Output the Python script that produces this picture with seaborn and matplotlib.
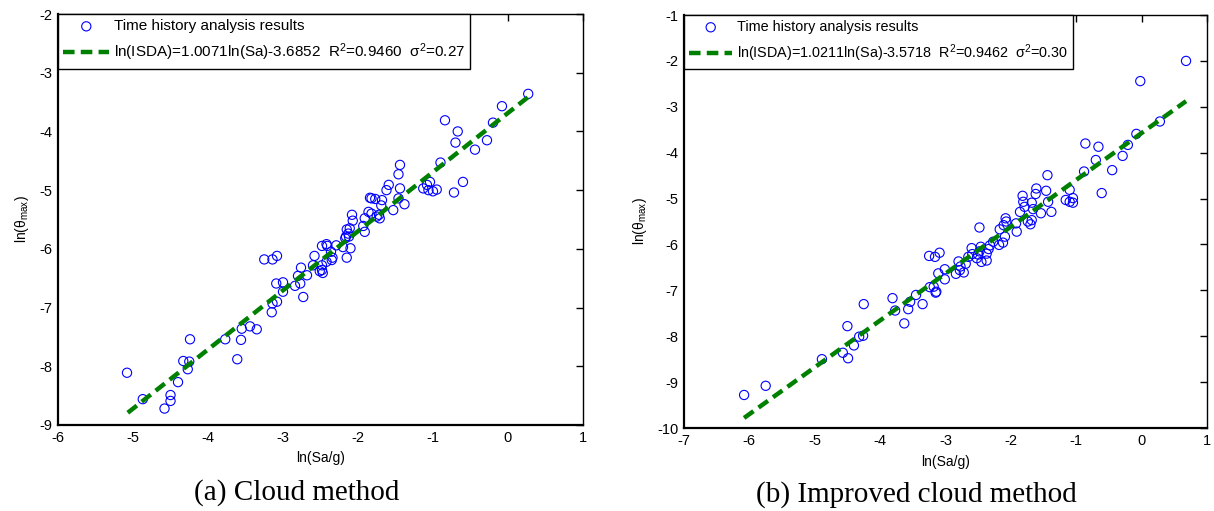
import numpy as np
import pandas as pd
import matplotlib
matplotlib.use("Agg")
import matplotlib.pyplot as plt
import seaborn as sns

# ---- data: (a) Cloud method ----
a_x = [-5.08, -4.87, -4.58, -4.50, -4.50, -4.40, -4.33, -4.27, -4.25, -4.24,
       -3.77, -3.61, -3.56, -3.55, -3.44, -3.35, -3.15, -3.14, -3.08, -3.09,
       -3.00, -3.00, -3.25, -3.14, -3.08,
       -2.84, -2.77, -2.73, -2.76, -2.80, -2.68, -2.58, -2.60, -2.48, -2.48,
       -2.47, -2.51, -2.48, -2.41, -2.35, -2.34, -2.29, -2.20, -2.15, -2.10,
       -2.17, -2.15, -2.08, -2.07, -2.13, -2.11, -2.16, -2.12, -1.91, -1.93,
       -1.86, -1.82, -1.91, -1.82, -1.77, -1.68, -1.69, -1.84, -1.75, -1.71,
       -1.72, -1.53, -1.62, -1.59, -1.46, -1.44, -1.44, -1.46, -1.38,
       -1.13, -1.06, -0.95, -1.04, -1.08, -1.00, -0.90, -0.72, -0.60, -0.70,
       -0.67, -0.84, -0.44, -0.28, -0.20, -0.08, 0.27,
       -2.36, -2.42, -2.42]
a_y = [-8.11, -8.56, -8.72, -8.49, -8.59, -8.27, -7.91, -8.05, -7.92, -7.54,
       -7.54, -7.88, -7.55, -7.36, -7.32, -7.37, -7.08, -6.93, -6.90, -6.59,
       -6.57, -6.73, -6.18, -6.18, -6.12,
       -6.63, -6.59, -6.82, -6.32, -6.46, -6.45, -6.12, -6.28, -6.28, -6.36,
       -6.41, -6.38, -5.95, -5.95, -6.19, -6.15, -5.94, -5.97, -6.15, -5.99,
       -5.82, -5.67, -5.42, -5.52, -5.74, -5.65, -5.79, -5.79, -5.71, -5.61,
       -5.37, -5.40, -5.48, -5.14, -5.15, -5.17, -5.26, -5.13, -5.45, -5.48,
       -5.42, -5.34, -5.00, -4.91, -4.73, -4.57, -4.97, -5.14, -5.24,
       -4.97, -5.00, -4.99, -4.86, -4.91, -5.02, -4.53, -5.04, -4.86, -4.19,
       -4.00, -3.81, -4.31, -4.15, -3.85, -3.57, -3.36,
       -6.05, -5.92, -6.22]

# ---- data: (b) Improved cloud method ----
b_x = [-6.08, -5.75, -4.89, -4.57, -4.49, -4.50, -4.40, -4.32, -4.26, -4.25,
       -3.81, -3.77, -3.63, -3.57, -3.54, -3.45, -3.35, -3.24,
       -3.25, -3.16, -3.09, -3.18, -3.14, -3.15, -3.11, -3.01, -3.01,
       -2.84, -2.80, -2.77, -2.72, -2.78, -2.69, -2.65, -2.60, -2.59,
       -2.52, -2.50, -2.48, -2.46, -2.37, -2.34, -2.32, -2.37, -2.45, -2.48,
       -2.27, -2.18, -2.12, -2.09, -2.17, -2.11, -2.08, -2.07,
       -1.91, -1.92, -1.86, -1.81, -1.82, -1.79, -1.74, -1.68, -1.70, -1.66,
       -1.68, -1.61, -1.62, -1.54, -1.46, -1.43, -1.38, -1.44,
       -1.10, -1.16, -1.05, -1.05, -1.10, -0.88, -0.86, -0.66, -0.70, -0.61,
       -0.45, -0.29, -0.21, -0.08, 0.28, -0.02, 0.68]
b_y = [-9.28, -9.08, -8.50, -8.36, -8.48, -7.78, -8.20, -8.01, -7.99, -7.30,
       -7.17, -7.44, -7.72, -7.41, -7.25, -7.10, -7.30, -6.93,
       -6.25, -6.27, -6.18, -6.92, -7.03, -7.05, -6.63, -6.54, -6.76,
       -6.64, -6.37, -6.48, -6.61, -6.56, -6.42, -6.27, -6.08, -6.21,
       -6.30, -6.22, -6.15, -6.05, -6.20, -6.10, -6.02, -6.35, -6.38, -5.63,
       -5.94, -6.01, -5.96, -5.83, -5.67, -5.58, -5.43, -5.50,
       -5.72, -5.54, -5.29, -5.07, -4.94, -5.18, -5.50, -5.47, -5.56, -5.23,
       -5.09, -4.78, -4.90, -5.32, -4.83, -5.07, -5.29, -4.49,
       -4.81, -5.03, -4.99, -5.09, -5.07, -4.41, -3.80, -3.87, -4.16, -4.88,
       -4.38, -4.07, -3.83, -3.59, -3.32, -2.44, -2.00]

# regression lines (end points of fitted lines)
a_fit_x = [-5.07, 0.27]
a_slope, a_icpt = 1.0071, -3.6852
b_fit_x = [-6.08, 0.68]
b_slope, b_icpt = 1.0211, -3.5718

a_label = r"ln(ISDA)=1.0071ln(Sa)-3.6852  R$^2$=0.9460  σ$^2$=0.27"
b_label = r"ln(ISDA)=1.0211ln(Sa)-3.5718  R$^2$=0.9462  σ$^2$=0.30"
pt_label = "Time history analysis results"
xlabel = "ln(Sa/g)"
ylabel = r"ln(θ$_{\mathrm{max}}$)"
cap_a = "(a) Cloud method"
cap_b = "(b) Improved cloud method"

sns.set_style("white")
plt.rcParams["font.family"] = ["Liberation Sans", "DejaVu Sans"]
plt.rcParams["mathtext.fontset"] = "custom"
plt.rcParams["mathtext.rm"] = "Liberation Sans"
plt.rcParams["mathtext.it"] = "Liberation Sans:italic"
plt.rcParams["text.color"] = "black"
plt.rcParams["axes.labelcolor"] = "black"
plt.rcParams["xtick.color"] = "black"
plt.rcParams["ytick.color"] = "black"

fig = plt.figure(figsize=(12.14, 5.11), dpi=100)
ax1 = fig.add_axes([0.0478, 0.1683, 0.4324, 0.8043])
ax2 = fig.add_axes([0.5634, 0.1624, 0.4308, 0.8082])

def draw(ax, xs, ys, fx, slope, icpt, lab, xlim, ylim, xt, yt, legsize):
    dfp = pd.DataFrame({"x": xs, "y": ys})
    fy = [slope * v + icpt for v in fx]
    dfl = pd.DataFrame({"x": fx, "y": fy})
    sns.scatterplot(data=dfp, x="x", y="y", ax=ax, marker="o", s=44,
                    facecolor="none", edgecolor="#0000ff", linewidth=0.8,
                    label=pt_label, zorder=3)
    sns.lineplot(data=dfl, x="x", y="y", ax=ax, color="#008000", linewidth=3.2,
                 dashes=False, label=lab, zorder=4, sort=False)
    ax.lines[-1].set_dashes((2.6, 1.4))
    ax.set_xlim(*xlim)
    ax.set_ylim(*ylim)
    ax.set_xticks(xt)
    ax.set_yticks(yt)
    ax.set_xticklabels([str(v) for v in xt])
    ax.set_yticklabels([str(v) for v in yt])
    ax.tick_params(direction="in", length=5, width=1, labelsize=10.5,
                   top=True, right=True, colors="black", labelcolor="black", pad=4)
    for s in ["left", "bottom"]:
        ax.spines[s].set_linewidth(1.6)
    for s in ["top", "right"]:
        ax.spines[s].set_linewidth(1.0)
    for s in ax.spines.values():
        s.set_color("black")
        s.set_visible(True)
    ax.set_xlabel(xlabel, fontsize=10, labelpad=5, color="black")
    ax.set_ylabel(ylabel, fontsize=10, labelpad=6, color="black")
    leg = ax.legend(loc="upper left", bbox_to_anchor=(0, 1), borderaxespad=0,
                    fancybox=False, edgecolor="black", fontsize=legsize,
                    handlelength=3.0, handletextpad=0.3, labelspacing=0.55,
                    borderpad=0.35, framealpha=1)
    leg.get_frame().set_linewidth(1.0)
    for t in leg.get_texts():
        t.set_color("black")

draw(ax1, a_x, a_y, a_fit_x, a_slope, a_icpt, a_label,
     (-6, 1), (-9, -2), list(range(-6, 2)), list(range(-9, -1)), 11)
draw(ax2, b_x, b_y, b_fit_x, b_slope, b_icpt, b_label,
     (-7, 1), (-10, -1), list(range(-7, 2)), list(range(-10, 0)), 10.4)

fig.text(0.2443, 0.037, cap_a, ha="center", va="center", color="black",
         fontsize=21, family="Liberation Serif")
fig.text(0.7545, 0.033, cap_b, ha="center", va="center", color="black",
         fontsize=21, family="Liberation Serif")

fig.savefig("out.png", dpi=100, facecolor="white")
